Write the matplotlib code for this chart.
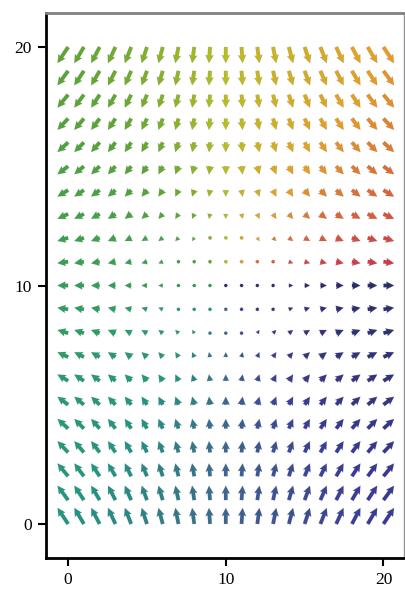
import numpy as np
import matplotlib
matplotlib.use("Agg")
import matplotlib.pyplot as plt
from matplotlib.colors import LinearSegmentedColormap

# Grid positions (columns x, rows y)
x_vals = [0, 1, 2, 3, 4, 5, 6, 7, 8, 9, 10, 11, 12, 13, 14, 15, 16, 17, 18, 19, 20]
y_vals = [0, 1, 2, 3, 4, 5, 6, 7, 8, 9, 10, 11, 12, 13, 14, 15, 16, 17, 18, 19, 20]
# Horizontal component per column, vertical component per row
u_by_col = [-10, -9, -8, -7, -6, -5, -4, -3, -2, -1, 0, 1, 2, 3, 4, 5, 6, 7, 8, 9, 10]
v_by_row = [10, 9, 8, 7, 6, 5, 4, 3, 2, 1, 0, -1, -2, -3, -4, -5, -6, -7, -8, -9, -10]
tick_vals = [0, 10, 20]
tick_labels = ["0", "10", "20"]

# colour along direction angle (0 -> 1 over a full turn)
cmap_pos = [0.0, 0.125, 0.25, 0.375, 0.5, 0.625, 0.75, 0.875, 1.0]
cmap_cols = ["#2c2c68", "#3a3a98", "#3d6690", "#1f9880", "#2fa05a",
             "#5aa632", "#b8c01e", "#e8a020", "#d02a50"]
cmap = LinearSegmentedColormap.from_list("dir", list(zip(cmap_pos, cmap_cols)))

X, Y = np.meshgrid(x_vals, y_vals)
U, V = np.meshgrid(u_by_col, v_by_row)
C = (np.arctan2(V, U) % (2 * np.pi)) / (2 * np.pi)

fig = plt.figure(figsize=(4.06, 5.95), dpi=100)
ax = fig.add_axes([46 / 406, 1 - 558 / 595, (404 - 46) / 406, (558 - 13) / 595])
ax.quiver(X, Y, U, V, C, cmap=cmap, clim=(0, 1), angles="xy", scale_units="xy",
          scale=15, units="dots", width=3.6, headwidth=2.2, headlength=2.2,
          headaxislength=2.0, pivot="tail", edgecolor="#55555540", linewidth=0.4)

ax.set_xlim(-1.4, 21.3)
ax.set_ylim(-1.43, 21.43)
ax.set_xticks(tick_vals)
ax.set_xticklabels(tick_labels)
ax.set_yticks(tick_vals)
ax.set_yticklabels(tick_labels)
for lab in ax.get_xticklabels() + ax.get_yticklabels():
    lab.set_fontfamily("Liberation Serif")
    lab.set_fontsize(12.5)
ax.tick_params(direction="out", length=6, width=1.5, color="black", pad=4)

ax.spines["left"].set_linewidth(2)
ax.spines["left"].set_color("black")
ax.spines["bottom"].set_linewidth(2)
ax.spines["bottom"].set_color("black")
ax.spines["top"].set_linewidth(2)
ax.spines["top"].set_color("#808080")
ax.spines["right"].set_linewidth(1)
ax.spines["right"].set_color("#909090")

fig.savefig("out.png", dpi=100)
